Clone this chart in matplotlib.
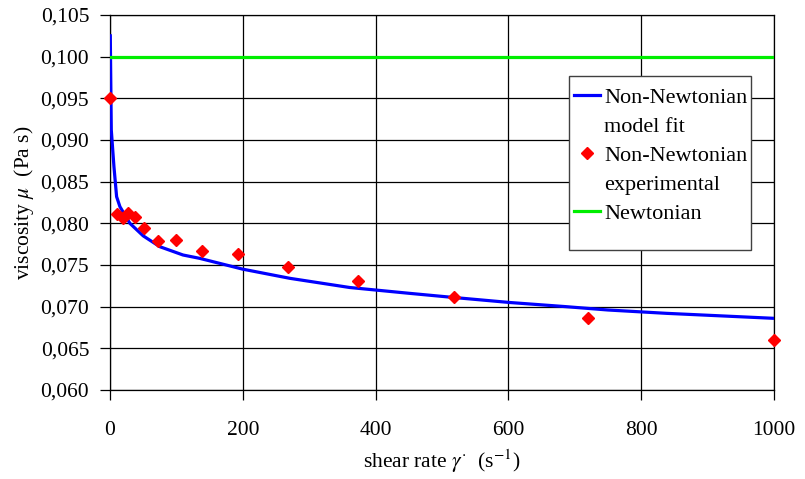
import matplotlib
matplotlib.use("Agg")
from matplotlib import pyplot as plt
from matplotlib.ticker import FuncFormatter
from matplotlib.patches import Rectangle

# experimental points
shear_exp = [0.5, 10, 19, 27, 37, 52, 72, 100, 139, 193, 268, 373, 518, 720, 1000]
visc_exp = [0.0950, 0.0811, 0.0806, 0.0812, 0.0807, 0.0794, 0.0779, 0.0780,
            0.0767, 0.0763, 0.0748, 0.0731, 0.0712, 0.0687, 0.0660]

# model fit curve, read at points along the line
shear_fit = [0.5, 2, 6, 10, 15, 30, 50, 75, 110, 135, 200, 271, 361, 451,
             518, 602, 687, 750, 838, 1000]
visc_fit = [0.1025, 0.0912, 0.0868, 0.0832, 0.0820, 0.0800, 0.0785, 0.0772,
            0.0762, 0.0758, 0.0745, 0.0734, 0.0723, 0.0716, 0.0711, 0.0705,
            0.0700, 0.0696, 0.0692, 0.0686]

newtonian_x = [0, 1000]
newtonian_y = [0.100, 0.100]

plt.rcParams["font.family"] = ["Liberation Serif", "DejaVu Serif"]
plt.rcParams["mathtext.fontset"] = "stix"
plt.rcParams["font.size"] = 15.5

fig = plt.figure(figsize=(8.05, 4.79), dpi=100)
ax = fig.add_axes([0.1366, 0.1858, 0.8249, 0.7829])

fit_line, = ax.plot(shear_fit, visc_fit, color="#0000ff", lw=2.3, zorder=3)
exp_pts, = ax.plot(shear_exp, visc_exp, ls="none", marker="D", ms=6.3, color="#ff0000",
                   zorder=4, clip_on=False)
newt_line, = ax.plot(newtonian_x, newtonian_y, color="#00ee00", lw=2.3, zorder=3)

ax.set_xlim(0, 1000)
ax.set_ylim(0.060, 0.105)
ax.set_xticks(range(0, 1001, 200))
ax.set_yticks([0.060 + 0.005 * i for i in range(10)])
ax.yaxis.set_major_formatter(FuncFormatter(lambda v, p: f"{v:.3f}".replace(".", ",")))
ax.grid(True, color="black", lw=0.9)
ax.tick_params(direction="out", length=7, width=0.9, color="black")
ax.tick_params(axis="x", pad=15)
ax.tick_params(axis="y", pad=8)
for s in ax.spines.values():
    s.set_linewidth(0.9)

ax.set_xlabel(r"shear rate $\gamma^{\cdot}$  (s$^{-1}$)", labelpad=6)
ax.set_ylabel(r"viscosity $\mu$  (Pa s)", labelpad=3)

# legend box (Excel style, taller than its content)
ax.add_patch(Rectangle((0.691, 0.373), 0.274, 0.464, transform=ax.transAxes,
                       facecolor="white", edgecolor="#404040", lw=1.0, zorder=5))
blank = plt.Line2D([], [], ls="none")
leg = ax.legend([fit_line, blank, exp_pts, blank, newt_line],
                ["Non-Newtonian", "model fit", "Non-Newtonian", "experimental", "Newtonian"],
                loc="upper left", bbox_to_anchor=(0.699, 0.808), borderaxespad=0,
                frameon=False, handlelength=1.15, handletextpad=0.2, labelspacing=0.38,
                borderpad=0, fontsize=16)
leg.set_zorder(6)

fig.savefig("out.png", dpi=100)
